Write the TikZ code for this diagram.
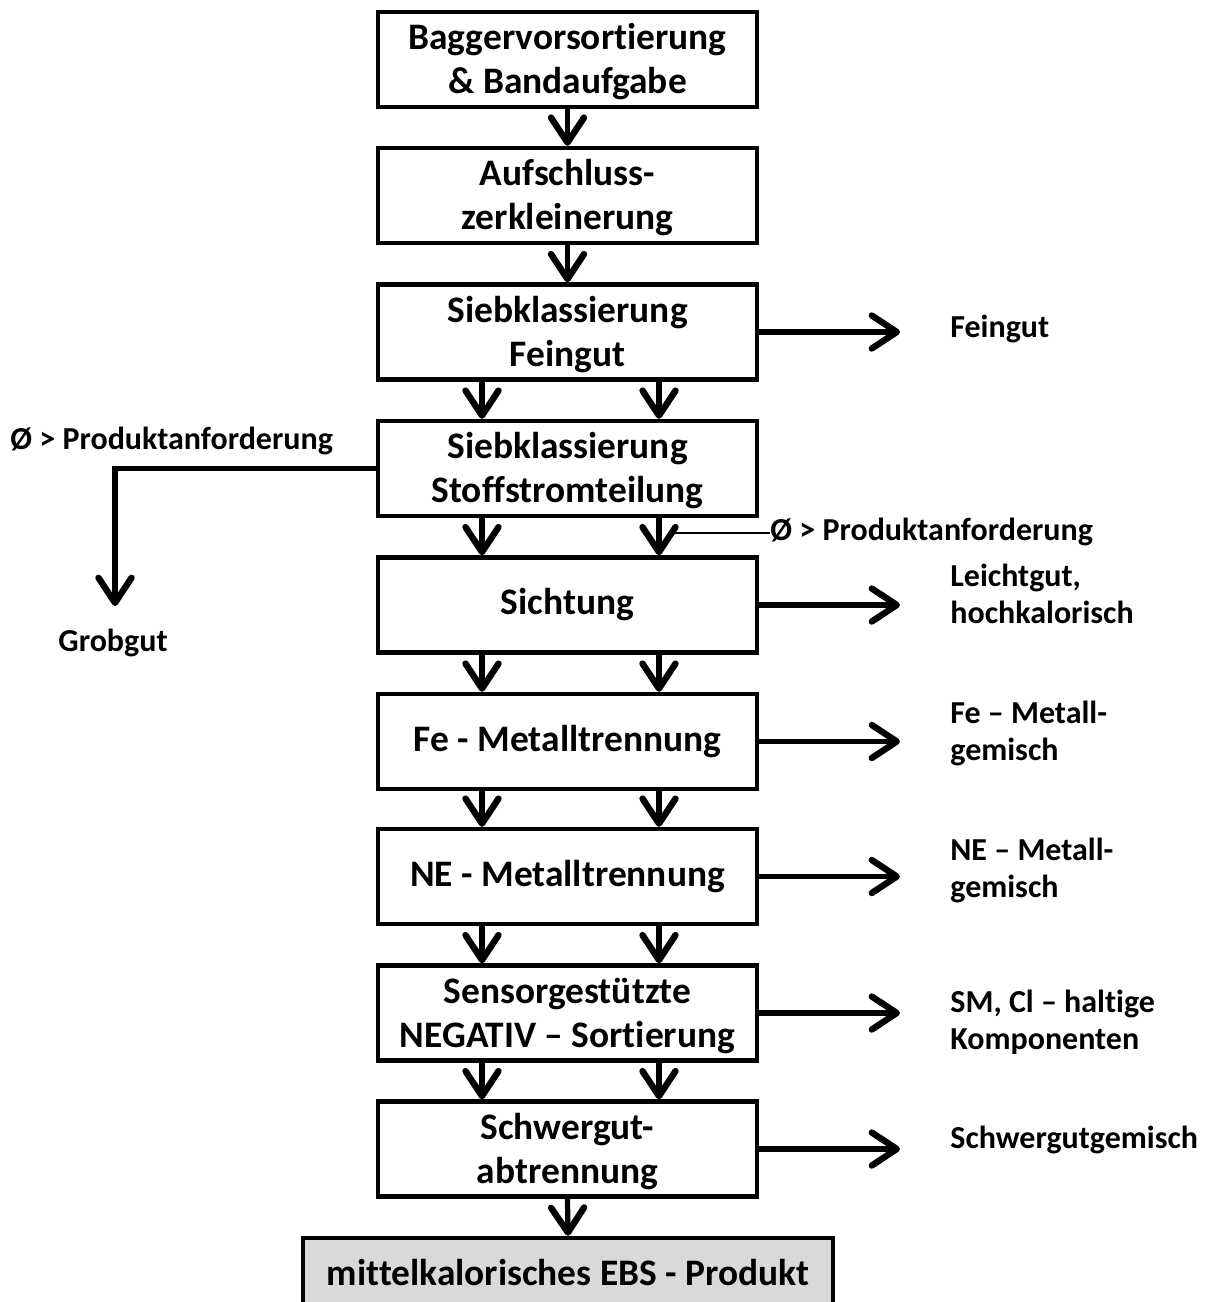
\documentclass[tikz,border=0pt]{standalone}
\usepackage{fontspec}
\setmainfont{Carlito}[Ligatures=NoCommon]
\usetikzlibrary{arrows.meta}
\begin{document}
\begin{tikzpicture}[x=0.5pt,y=-0.5pt,
  box/.style={draw,line width=2.2pt,minimum width=189.5pt,minimum height=47.5pt,inner sep=0pt,align=center,
    font=\fontsize{18.7pt}{22pt}\selectfont\bfseries},
  side/.style={anchor=west,inner sep=0pt,align=left,font=\fontsize{16pt}{18.5pt}\selectfont\bfseries},
  arr/.style={line width=2.6pt,-{Straight Barb[length=12.5pt,width=16.5pt,line width=3.2pt,line cap=round,line join=round]}},
  thinline/.style={line width=0.6pt}]
\useasboundingbox (0,0) rectangle (1209,1302);
\clip (0,0) rectangle (1209,1302);
\node[box] (b1) at (567.5,59.5) {\strut Baggervorsortierung\\\& Bandaufgabe};
\node[box] (b2) at (567.5,195.5) {\strut Aufschluss-\\zerkleinerung};
\node[box] (b3) at (567.5,332) {\strut Siebklassierung\\Feingut};
\node[box] (b4) at (567.5,468.5) {\strut Siebklassierung\\Stoffstromteilung};
\node[box] (b5) at (567.5,605) {Sichtung};
\node[box] (b6) at (567.5,741.5) {Fe - Metalltrennung};
\node[box] (b7) at (567.5,876.5) {NE - Metalltrennung};
\node[box] (b8) at (567.5,1013) {\strut Sensorgestützte\\NEGATIV – Sortierung};
\node[box] (b9) at (567.5,1149) {\strut Schwergut-\\abtrennung};
\node[box,fill=black!15,minimum width=265pt,minimum height=34pt] (b10) at (568,1272) {mittelkalorisches EBS - Produkt};
% single arrows
\draw[arr] (b1.south) -- (b2.north);
\draw[arr] (b2.south) -- (b3.north);
\draw[arr] (b9.south) -- (b10.north);
% double arrows
\foreach \a/\b in {b3/b4,b4/b5,b5/b6,b6/b7,b7/b8,b8/b9}{
  \draw[arr] ([xshift=-42.75pt]\a.south) -- ([xshift=-42.75pt]\b.north);
  \draw[arr] ([xshift=45.75pt]\a.south) -- ([xshift=45.75pt]\b.north);
}
% side outputs
\coordinate (rx) at (900,0);
\node[side] (l3) at (950,329) {Feingut};
\node[side] (l5) at (950,594) {Leichtgut,\\hochkalorisch};
\node[side] (l6) at (950,733.5) {Fe – Metall-\\gemisch};
\node[side] (l7) at (950,870.5) {NE – Metall-\\gemisch};
\node[side] (l8) at (950,1022) {SM, Cl – haltige\\Komponenten};
\node[side] (l9) at (950,1140) {Schwergutgemisch};
\foreach \b in {b3,b5,b6,b7,b8,b9}{
  \draw[arr] (\b.east) -- (\b.east -| rx);
}
% left branch
\node[side] (pa1) at (10,441) {Ø > Produktanforderung};
\coordinate (gk) at (115,606);
\draw[arr,line join=miter] (b4.west) -| (gk);
\node[side,anchor=center] (gg) at (113,643) {Grobgut};
% thin annotation
\node[side] (pa2) at (770,532) {Ø > Produktanforderung};
\coordinate (tp) at (672,533);
\draw[thinline] (tp) -- (pa2.west |- tp);
\end{tikzpicture}
\end{document}
